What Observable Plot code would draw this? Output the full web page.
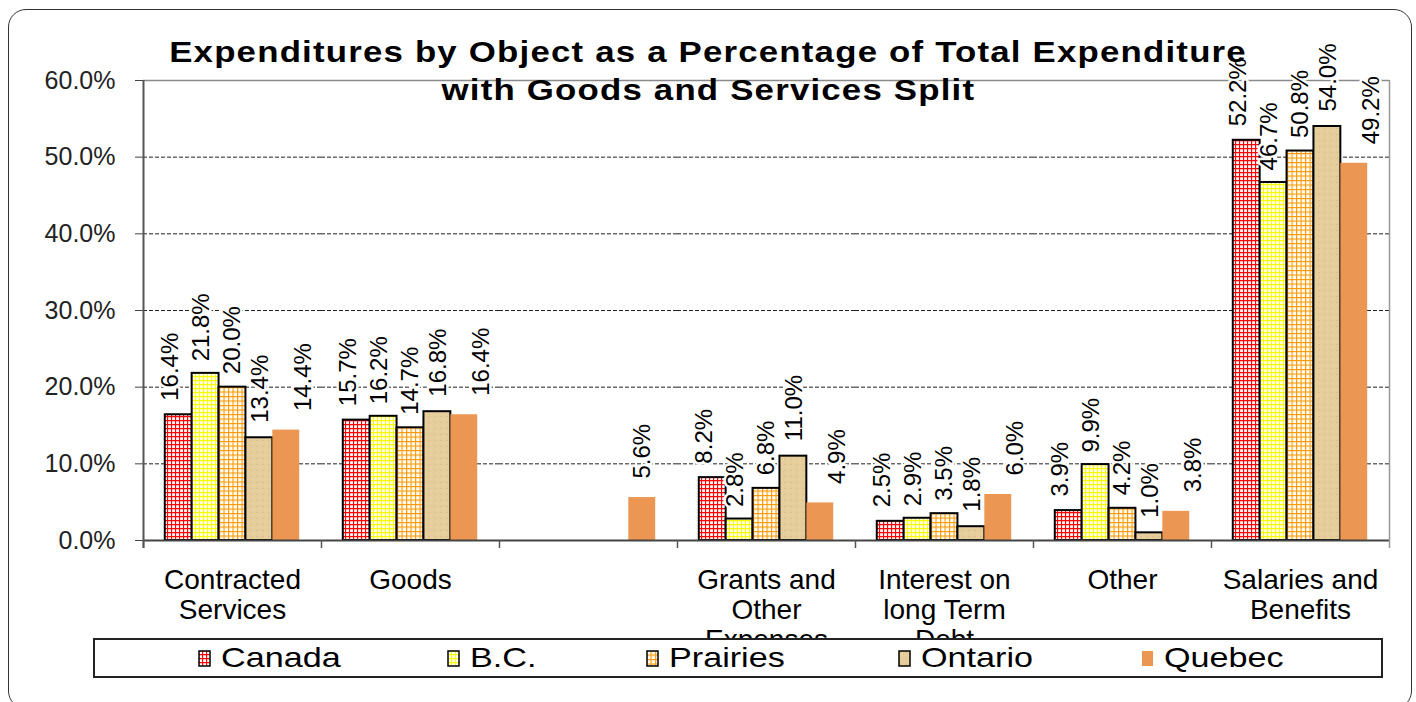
<!DOCTYPE html>
<html>
<head>
<meta charset="utf-8">
<script src="https://cdn.jsdelivr.net/npm/d3@7"></script>
<script src="https://cdn.jsdelivr.net/npm/@observablehq/plot@0.6"></script>
<style>
  html, body { margin: 0; padding: 0; background: #fff; }
  body { width: 1416px; height: 702px; position: relative; overflow: hidden; font-family: "Liberation Sans", Arial, sans-serif; }
  #frame { position: absolute; left: 8px; top: 9px; width: 1404px; height: 700px; border: 1.5px solid #333; border-radius: 18px; box-sizing: border-box; }
  #chart { position: absolute; left: 0; top: 0; width: 1416px; height: 640px; }
  #chart svg { max-width: none !important; }
  #title { position: absolute; left: 0; top: 33px; width: 1416px; text-align: center; font-weight: bold; font-size: 29px; line-height: 38px; color: #000; z-index: 3; pointer-events: none; }
  #title span { display: inline-block; transform: scaleX(1.2); transform-origin: 50% 50%; letter-spacing: 1px; }
  #legend { position: absolute; left: 93px; top: 638px; width: 1290px; height: 40px; border: 2px solid #222; background: #fff; box-sizing: border-box; z-index: 4; }
  .item { position: absolute; top: 0; height: 36px; display: flex; align-items: center; }
  .item svg { display: block; margin-right: 10px; }
  .item span { display: inline-block; font-size: 28px; transform: scaleX(1.22); transform-origin: 0 50%; color: #000; white-space: nowrap; }
</style>
</head>
<body>
<div id="frame"></div>
<div id="chart"></div>
<div id="title"><span>Expenditures by Object as a Percentage of Total Expenditure</span><br><span>with Goods and Services Split</span></div>
<div id="legend"></div>
<script>
// ---- data ----
const categories = ["Contracted\nServices", "Goods", "", "Grants and\nOther\nExpenses", "Interest on\nlong Term\nDebt", "Other", "Salaries and\nBenefits"];
const seriesNames = ["Canada", "B.C.", "Prairies", "Ontario", "Quebec"];
const canada   = [16.4, 15.7, null, 8.2, 2.5, 3.9, 52.2];
const bc       = [21.8, 16.2, null, 2.8, 2.9, 9.9, 46.7];
const prairies = [20.0, 14.7, null, 6.8, 3.5, 4.2, 50.8];
const ontario  = [13.4, 16.8, null, 11.0, 1.8, 1.0, 54.0];
const quebec   = [14.4, 16.4, 5.6, 4.9, 6.0, 3.8, 49.2];
const yTicks = [0, 10, 20, 30, 40, 50, 60];

// ---- styles ----
const seriesValues = [canada, bc, prairies, ontario, quebec];
const fills = ["url(#pat-ca)", "url(#pat-bc)", "url(#pat-pr)", "url(#pat-on)", "#EB9652"];
const strokes = ["#000", "#000", "#000", "#000", "none"];
const labelDx = [-8, -4, 0, 1, 17];
const labelDy = [-14, -12, -13, -15, -19];

const rows = [];
seriesValues.forEach((vals, si) => {
  vals.forEach((v, ci) => {
    if (v != null) rows.push({cat: categories[ci], series: seriesNames[si], si, value: v});
  });
});

const PO = 0.81;
const XMIN = -PO, XMAX = 5 + PO;

const marks = [
  Plot.ruleY([10, 20, 30, 40, 50], {stroke: "#222", strokeWidth: 1, strokeDasharray: "4,2"}),
  Plot.ruleY([60], {stroke: "#8a8a8a", strokeWidth: 1.5}),
  Plot.axisY({ticks: yTicks, tickFormat: d => d.toFixed(1) + "%", tickSize: 8, tickPadding: 20, label: null, fontSize: 25, stroke: "#444", fill: "#222"})
];
seriesNames.forEach((s, si) => {
  marks.push(Plot.rect(rows.filter(d => d.si === si), {
    fx: "cat", x1: d => d.si, x2: d => d.si + 1, y1: () => 0, y2: "value",
    fill: fills[si], stroke: strokes[si], strokeWidth: 2
  }));
});
marks.push(
  Plot.ruleY([0], {stroke: "#444", strokeWidth: 2}),
  Plot.ruleX(categories, {fx: d => d, x: () => XMIN, y1: () => 0, y2: () => 0, insetBottom: -8, stroke: "#555", strokeWidth: 1.5}),
  Plot.ruleX([categories[0]], {fx: d => d, x: () => XMIN, y1: () => 60, y2: () => 0, insetBottom: -8, stroke: "#555", strokeWidth: 2}),
  Plot.ruleX([categories[categories.length - 1]], {fx: d => d, x: () => XMAX, y1: () => 60, y2: () => 0, insetBottom: -8, stroke: "#999", strokeWidth: 1.5})
);
seriesNames.forEach((s, si) => {
  const sub = rows.filter(d => d.si === si);
  const groups = si === 4 ? [sub.filter(d => d.cat !== ""), sub.filter(d => d.cat === "")] : [sub];
  groups.forEach((g, gi) => {
    marks.push(Plot.text(g, {
      fx: "cat", x: d => d.si + 0.5, y: "value",
      text: d => d.value.toFixed(1) + "%",
      rotate: -90, textAnchor: "start",
      dx: gi === 1 ? 0 : labelDx[si], dy: labelDy[si],
      fontSize: 24, fill: "#000", stroke: "#fff", strokeWidth: 5
    }));
  });
});
marks.push(
  Plot.text(categories, {fx: d => d, text: d => d, frameAnchor: "bottom", lineAnchor: "top", dy: 27, fontSize: 28, lineHeight: 1.07, fill: "#000"})
);

const svg = Plot.plot({
  width: 1416, height: 640,
  marginLeft: 140, marginRight: 24, marginTop: 80, marginBottom: 100,
  fx: {domain: categories, padding: 0, axis: null},
  x: {domain: [XMIN, XMAX], axis: null},
  y: {domain: [0, 60]},
  style: {fontFamily: "'Liberation Sans', Arial, sans-serif", fontSize: "24px", background: "transparent", color: "#000", overflow: "visible"},
  marks
});

// patterns
const defs = d3.select(svg).insert("defs", ":first-child");
function grid(id, color, size) {
  const p = defs.append("pattern").attr("id", id).attr("patternUnits", "userSpaceOnUse").attr("width", size).attr("height", size);
  p.append("rect").attr("width", size).attr("height", size).attr("fill", "#fff");
  p.append("path").attr("d", `M0,0.5H${size}M0.5,0V${size}`).attr("stroke", color).attr("stroke-width", 1.3).attr("fill", "none");
}
grid("pat-ca", "#ff0000", 4);
grid("pat-bc", "#ffff00", 4);
grid("pat-pr", "#ff9900", 4.5);
const on = defs.append("pattern").attr("id", "pat-on").attr("patternUnits", "userSpaceOnUse").attr("width", 6).attr("height", 6);
on.append("rect").attr("width", 6).attr("height", 6).attr("fill", "#E6CD9C");
on.append("rect").attr("x", 1).attr("y", 2).attr("width", 2).attr("height", 1).attr("fill", "#DCC08A");
on.append("rect").attr("x", 4).attr("y", 5).attr("width", 1).attr("height", 1).attr("fill", "#EDD9AE");

d3.select(svg).attr("width", 1416).attr("height", 640).style("display", "block");
document.getElementById("chart").appendChild(svg);

// legend
const legendLeft = [198, 447, 646, 898, 1141];
const legend = d3.select("#legend");
seriesNames.forEach((s, si) => {
  const item = legend.append("div").attr("class", "item").style("left", (legendLeft[si] - 95) + "px");
  const sw = item.append("svg").attr("width", 13).attr("height", 17);
  sw.append("rect").attr("x", 1).attr("y", 1).attr("width", 11).attr("height", 15)
    .attr("fill", fills[si]).attr("stroke", strokes[si]).attr("stroke-width", 1.5);
  item.append("span").text(s);
});
</script>
</body>
</html>
